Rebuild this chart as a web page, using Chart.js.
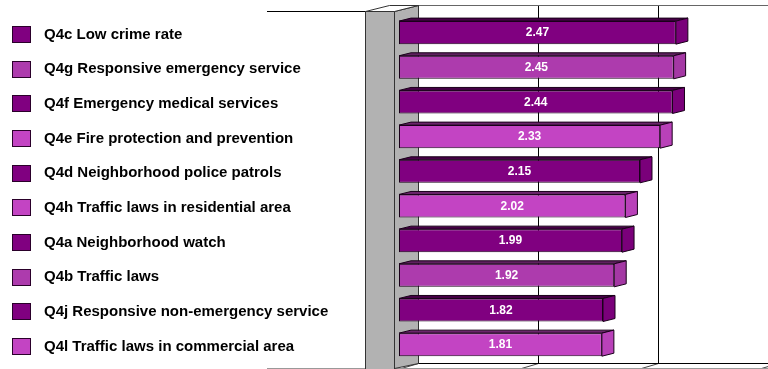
<!DOCTYPE html>
<html>
<head>
<meta charset="utf-8">
<script src="https://cdn.jsdelivr.net/npm/chart.js@4/dist/chart.umd.min.js"></script>
<style>
  html, body { margin: 0; padding: 0; background: #ffffff; }
  #wrap { width: 768px; height: 369px; }
</style>
</head>
<body>
<div id="wrap"><canvas id="c" width="768" height="369"></canvas></div>
<script>
// Service ratings (mean scores), top to bottom
const categories = [
  'Q4c Low crime rate',
  'Q4g Responsive emergency service',
  'Q4f Emergency medical services',
  'Q4e Fire protection and prevention',
  'Q4d Neighborhood police patrols',
  'Q4h Traffic laws in residential area',
  'Q4a Neighborhood watch',
  'Q4b Traffic laws',
  'Q4j Responsive non-emergency service',
  'Q4l Traffic laws in commercial area'
];
const scores = [2.47, 2.45, 2.44, 2.33, 2.15, 2.02, 1.99, 1.92, 1.82, 1.81];
const barColors = [
  '#800080', '#ad3bad', '#800080', '#c344c3', '#800080',
  '#c344c3', '#800080', '#ad3bad', '#800080', '#c344c3'
];
const gridValues = [0, 1, 2, 3];

// 3D geometry of the frame (pixel offsets for the depth effect)
const DEPTH = { barDx: 12, barDy: -3, wallDx: 24, wallDy: -6 };

function shade(hex, f) {
  const n = parseInt(hex.slice(1), 16);
  const r = Math.round(((n >> 16) & 255) * f);
  const g = Math.round(((n >> 8) & 255) * f);
  const b = Math.round((n & 255) * f);
  return 'rgb(' + r + ',' + g + ',' + b + ')';
}

function poly(ctx, pts, fill, stroke) {
  ctx.beginPath();
  ctx.moveTo(pts[0][0], pts[0][1]);
  for (let i = 1; i < pts.length; i++) ctx.lineTo(pts[i][0], pts[i][1]);
  ctx.closePath();
  if (fill) { ctx.fillStyle = fill; ctx.fill(); }
  if (stroke) { ctx.strokeStyle = stroke; ctx.lineWidth = 1; ctx.stroke(); }
}

// Back wall, gridlines, floor and side wall
const framePlugin = {
  id: 'frame3d',
  beforeDatasetsDraw(chart) {
    const ctx = chart.ctx;
    const xb = chart.scales.xb;
    const area = chart.chartArea;
    const backTop = 5.5, backBottom = 363.5;
    const frontTop = 11.5, frontBottom = 368.5;
    const wallBackX = xb.getPixelForValue(0);
    const wallFrontX = wallBackX - DEPTH.wallDx;
    ctx.save();
    // back gridlines
    ctx.strokeStyle = '#000000';
    ctx.lineWidth = 1;
    gridValues.forEach(v => {
      const px = Math.round(xb.getPixelForValue(v)) + 0.5;
      ctx.beginPath();
      ctx.moveTo(px, backTop);
      ctx.lineTo(px, backBottom);
      ctx.stroke();
      // floor gridline towards the front
      ctx.beginPath();
      ctx.moveTo(px, backBottom);
      ctx.lineTo(px - 17, frontBottom);
      ctx.strokeStyle = '#444444';
      ctx.stroke();
      ctx.strokeStyle = '#000000';
    });
    // top edge of the back wall
    ctx.strokeStyle = '#666666';
    ctx.beginPath();
    ctx.moveTo(wallBackX, backTop);
    ctx.lineTo(area.right, backTop);
    ctx.stroke();
    // back edge of the floor
    ctx.strokeStyle = '#000000';
    ctx.beginPath();
    ctx.moveTo(wallBackX, backBottom);
    ctx.lineTo(area.right, backBottom);
    ctx.stroke();
    // front edge of the floor
    ctx.strokeStyle = '#999999';
    ctx.beginPath();
    ctx.moveTo(267, frontBottom);
    ctx.lineTo(area.right, frontBottom);
    ctx.stroke();
    // front top edge to the left of the wall
    ctx.strokeStyle = '#000000';
    ctx.beginPath();
    ctx.moveTo(267, frontTop);
    ctx.lineTo(wallFrontX, frontTop);
    ctx.stroke();
    // side wall: depth face, top face and front face
    const wl = Math.round(wallFrontX - 29) + 0.5;
    const wr = Math.round(wallFrontX) + 0.5;
    const bx = Math.round(wallBackX) + 0.5;
    poly(ctx, [[wr, frontTop], [bx, backTop], [bx, backBottom], [wr, frontBottom]], '#b2b2b2', '#333333');
    poly(ctx, [[wl, frontTop], [wl + 24, backTop], [bx, backTop], [wr, frontTop]], '#ffffff', '#333333');
    poly(ctx, [[wl, frontTop], [wr, frontTop], [wr, 372], [wl, 372]], '#b2b2b2', '#333333');
    ctx.restore();
  },
  afterDatasetsDraw(chart) {
    const ctx = chart.ctx;
    const meta = chart.getDatasetMeta(0);
    ctx.save();
    meta.data.forEach((bar, i) => {
      const p = bar.getProps(['x', 'y', 'base', 'height'], true);
      const top = p.y - p.height / 2;
      const bottom = p.y + p.height / 2;
      const left = p.base, right = p.x;
      const dx = DEPTH.barDx, dy = DEPTH.barDy;
      // top face
      poly(ctx, [[left, top], [left + dx, top + dy], [right + dx, top + dy], [right, top]],
        shade(barColors[i], 0.55), '#1a001a');
      // end face
      poly(ctx, [[right, top], [right + dx, top + dy], [right + dx, bottom + dy], [right, bottom]],
        shade(barColors[i], 0.95), '#1a001a');
      // value label on the front face
      ctx.fillStyle = '#ffffff';
      ctx.font = 'bold 12px "Liberation Sans", Arial, sans-serif';
      ctx.textAlign = 'center';
      ctx.textBaseline = 'middle';
      ctx.fillText(scores[i].toFixed(2), (left + right) / 2, p.y + 0.5);
    });
    ctx.restore();
  },
  afterDraw(chart) {
    // legend rows aligned with the category axis
    const ctx = chart.ctx;
    const y = chart.scales.y;
    ctx.save();
    ctx.font = 'bold 15px "Liberation Sans", Arial, sans-serif';
    ctx.textAlign = 'left';
    ctx.textBaseline = 'middle';
    categories.forEach((label, i) => {
      const cy = y.getPixelForValue(i) + 1.5;
      ctx.fillStyle = barColors[i];
      ctx.fillRect(12.5, Math.round(cy - 8) + 0.5, 18, 16);
      ctx.strokeStyle = '#2a002a';
      ctx.lineWidth = 1;
      ctx.strokeRect(12.5, Math.round(cy - 8) + 0.5, 18, 16);
      ctx.fillStyle = '#000000';
      ctx.fillText(label, 44, cy + 0.5);
    });
    ctx.restore();
  }
};

new Chart(document.getElementById('c'), {
  type: 'bar',
  data: {
    labels: categories,
    datasets: [{
      data: scores,
      backgroundColor: barColors,
      borderColor: '#1a001a',
      borderWidth: 1,
      borderSkipped: false,
      barPercentage: 0.665,
      categoryPercentage: 1.0
    }]
  },
  options: {
    indexAxis: 'y',
    responsive: false,
    devicePixelRatio: 1,
    animation: false,
    layout: { padding: { left: 399, right: 0, top: 15.3, bottom: 7 } },
    plugins: { legend: { display: false }, tooltip: { enabled: false } },
    scales: {
      x: { type: 'linear', min: 0, max: 3.292, display: false },
      xb: { type: 'linear', axis: 'x', position: 'bottom', min: -0.158, max: 2.917, display: false },
      y: { type: 'category', display: false }
    }
  },
  plugins: [framePlugin]
});
</script>
</body>
</html>
